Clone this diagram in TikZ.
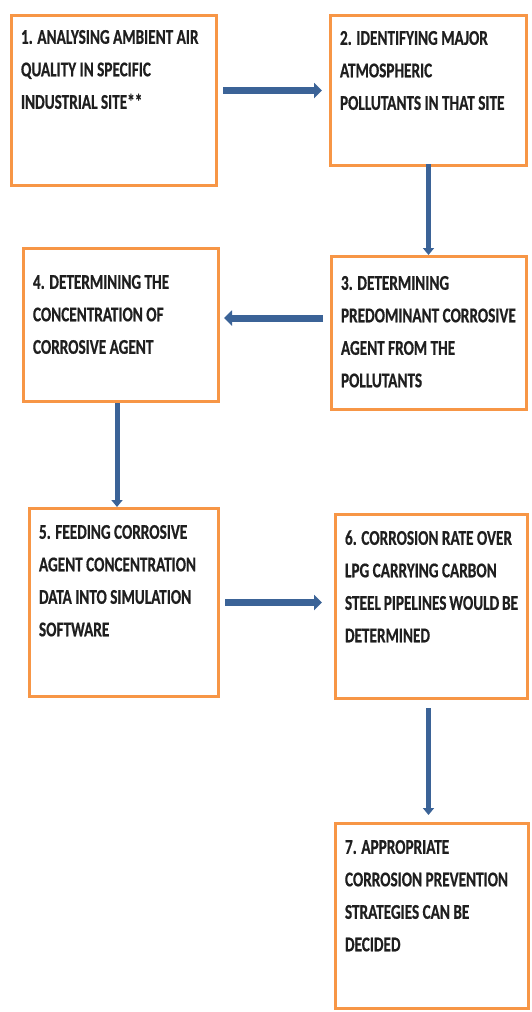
\documentclass[tikz,border=0pt]{standalone}
\usepackage{fontspec}
\usetikzlibrary{arrows.meta}
\newfontfamily\stepfont{Carlito}[FakeStretch=0.725, FakeBold=0.6]
\definecolor{boxorange}{HTML}{F79646}
\definecolor{flowblue}{HTML}{3B6397}
% width, height, first line strut, text
\newcommand{\steptext}[4]{\parbox[c][#2][t]{#1}{\rule{0pt}{#3}#4}}
\begin{document}
\begin{tikzpicture}[x=1pt, y=-1pt,
  stepbox/.style={rectangle, draw=boxorange, line width=3pt, inner xsep=9.5pt, inner ysep=0pt,
    anchor=north west, text=black!88, font=\stepfont\bfseries\fontsize{21}{32.5}\selectfont},
  hflow/.style={flowblue, line width=7pt, -{Triangle[length=8pt,width=15pt]}},
  vflow/.style={flowblue, line width=5pt, -{Triangle[length=7pt,width=11pt]}}]
\useasboundingbox (0,0) rectangle (531,1012);
%\draw[help lines, step=50] (0,0) grid (531,1012);
%%%%%%%%%%%%%%%%%%%%%%%%%%%%%%% Steps
\node[stepbox](siteAir) at (10,14){\steptext{186pt}{170pt}{28.3pt}{1. ANALYSING AMBIENT AIR\\QUALITY IN SPECIFIC\\INDUSTRIAL SITE**}};
\node[stepbox](majorPoll) at (329,14){\steptext{177pt}{150pt}{29.3pt}{2. IDENTIFYING MAJOR\\ATMOSPHERIC\\POLLUTANTS IN THAT SITE}};
\node[stepbox](mainAgent) at (330,255){\steptext{176pt}{153pt}{33.3pt}{3. DETERMINING\\PREDOMINANT CORROSIVE\\AGENT FROM THE\\POLLUTANTS}};
\node[stepbox](agentConc) at (22,247){\steptext{176pt}{153pt}{40.3pt}{4. DETERMINING THE\\CONCENTRATION OF\\CORROSIVE AGENT}};
\node[stepbox](simFeed) at (28,507){\steptext{170pt}{188pt}{30.3pt}{5. FEEDING CORROSIVE\\AGENT CONCENTRATION\\DATA INTO SIMULATION\\SOFTWARE}};
\node[stepbox](corrRate) at (334,513){\steptext{173pt}{184pt}{30.3pt}{6. CORROSION RATE OVER\\LPG CARRYING CARBON\\STEEL PIPELINES WOULD BE\\DETERMINED}};
\node[stepbox](prevent) at (334,822){\steptext{174pt}{185pt}{30.3pt}{7. APPROPRIATE\\CORROSION PREVENTION\\STRATEGIES CAN BE\\DECIDED}};
%%%%%%%%%%%%%%%%%%%%%%%%%%%%%%% Flow
\draw[hflow, shorten <=5pt, shorten >=7pt] (majorPoll.west -| siteAir.east) -- (majorPoll.west);
\draw[vflow, shorten <=-3pt] (majorPoll.south) -- (majorPoll.south |- mainAgent.north);
\draw[hflow, shorten <=7pt, shorten >=4pt] ([yshift=7pt]agentConc.east -| mainAgent.west) -- ([yshift=7pt]agentConc.east);
\draw[vflow] ([xshift=-4pt]agentConc.south) -- ([xshift=-4pt]agentConc.south |- simFeed.north);
\draw[hflow, shorten <=5pt, shorten >=12pt] (simFeed.east) -- (simFeed.east -| corrRate.west);
\draw[vflow, shorten <=8pt, shorten >=7pt] ([xshift=-3pt]corrRate.south) -- ([xshift=-3pt]corrRate.south |- prevent.north);
\end{tikzpicture}
\end{document}
